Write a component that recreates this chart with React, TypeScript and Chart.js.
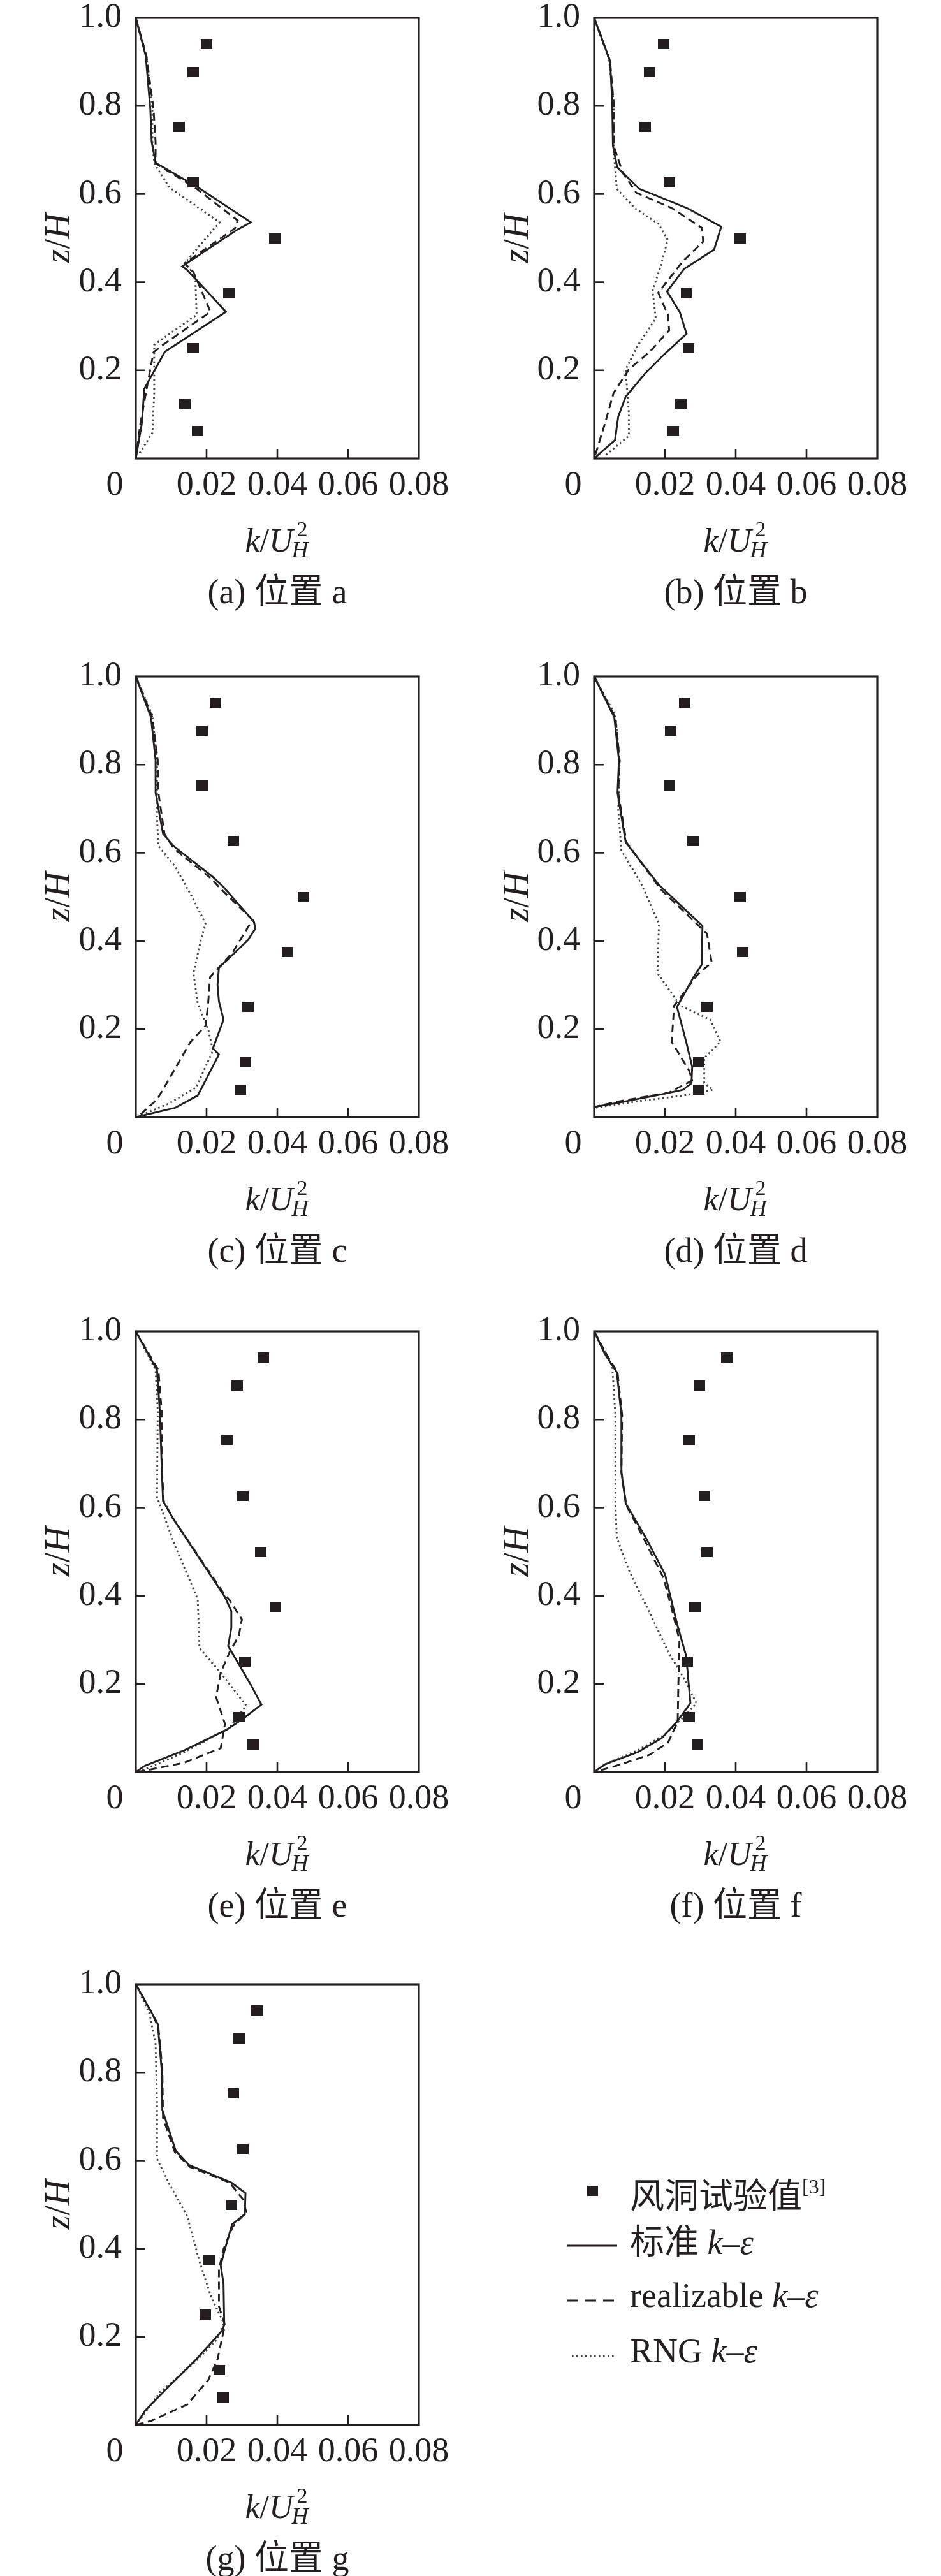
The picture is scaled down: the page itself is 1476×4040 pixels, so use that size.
import React, { useEffect, useRef } from "react";
import Chart from "chart.js/auto";

type Pt = [number, number];

const INK = "#231f20";
const SERIF = "'Liberation Serif', 'Noto Sans CJK SC', serif";

// tick values and labels (both axes)
const X_TICKS = [0, 0.02, 0.04, 0.06, 0.08];
const X_TICK_LABELS = ["0", "0.02", "0.04", "0.06", "0.08"];
const Y_TICKS = [0.2, 0.4, 0.6, 0.8, 1.0];
const Y_TICK_LABELS = ["0.2", "0.4", "0.6", "0.8", "1.0"];

// measuring heights z/H of the wind tunnel points (same at every position)
const EXP_Z = [0.94, 0.877, 0.752, 0.627, 0.5, 0.375, 0.25, 0.125, 0.0625];

// wind tunnel k/U_H^2 at each position
const EXP_A = [0.02, 0.0162, 0.0122, 0.0162, 0.0392, 0.0263, 0.0162, 0.0139, 0.0174];
const EXP_B = [0.0196, 0.0157, 0.0145, 0.0212, 0.0413, 0.0262, 0.0267, 0.0245, 0.0224];
const EXP_C = [0.0226, 0.0188, 0.0188, 0.0276, 0.0473, 0.0429, 0.0317, 0.031, 0.0295];
const EXP_D = [0.0255, 0.0217, 0.0213, 0.0279, 0.0413, 0.0419, 0.0319, 0.0296, 0.0296];
const EXP_E = [0.036, 0.0287, 0.0258, 0.0303, 0.0354, 0.0394, 0.0309, 0.0292, 0.0332];
const EXP_F = [0.0374, 0.0297, 0.0269, 0.0312, 0.0319, 0.0284, 0.0263, 0.0268, 0.0291];
const EXP_G = [0.0343, 0.0292, 0.0275, 0.0303, 0.027, 0.0208, 0.0197, 0.0236, 0.0246];

// simulated profiles, [k/U_H^2, z/H]
const A_STD: Pt[] = [[0, 1], [0.0028, 0.914], [0.0041, 0.794], [0.0045, 0.718], [0.0056, 0.671], [0.0176, 0.615], [0.0325, 0.536], [0.0286, 0.519], [0.0131, 0.436], [0.0146, 0.427], [0.0255, 0.333], [0.0082, 0.242], [0.0024, 0.158], [0.0017, 0.079], [0, 0]];
const A_REAL: Pt[] = [[0, 1], [0.003, 0.914], [0.005, 0.794], [0.0056, 0.718], [0.0056, 0.67], [0.0172, 0.612], [0.0288, 0.54], [0.028, 0.522], [0.0138, 0.443], [0.0163, 0.423], [0.0211, 0.333], [0.0077, 0.258], [0.005, 0.241], [0.003, 0.155], [0.0013, 0.079], [0, 0]];
const A_RNG: Pt[] = [[0, 1], [0.003, 0.914], [0.0047, 0.794], [0.0047, 0.718], [0.0052, 0.67], [0.0095, 0.615], [0.0237, 0.536], [0.0138, 0.443], [0.0168, 0.416], [0.0172, 0.326], [0.0052, 0.258], [0.0052, 0.148], [0.0047, 0.058], [0.0009, 0.01]];

const B_STD: Pt[] = [[0, 1], [0.0045, 0.902], [0.0051, 0.808], [0.0053, 0.71], [0.0065, 0.661], [0.0127, 0.612], [0.0263, 0.568], [0.0359, 0.526], [0.0339, 0.474], [0.0254, 0.43], [0.0206, 0.379], [0.0242, 0.332], [0.0261, 0.283], [0.0195, 0.234], [0.0144, 0.193], [0.0089, 0.14], [0.0068, 0.095], [0.0059, 0.042], [0, 0]];
const B_REAL: Pt[] = [[0, 1], [0.0045, 0.902], [0.0055, 0.808], [0.0055, 0.71], [0.0081, 0.648], [0.0119, 0.603], [0.022, 0.568], [0.0305, 0.523], [0.0308, 0.492], [0.025, 0.447], [0.0181, 0.376], [0.0208, 0.327], [0.0212, 0.291], [0.0157, 0.242], [0.0098, 0.202], [0.0055, 0.149], [0.003, 0.078], [0, 0]];
const B_RNG: Pt[] = [[0, 1], [0.0042, 0.906], [0.0055, 0.808], [0.0055, 0.7], [0.0064, 0.612], [0.0115, 0.568], [0.0182, 0.532], [0.0208, 0.496], [0.0187, 0.434], [0.0165, 0.381], [0.0174, 0.318], [0.0123, 0.256], [0.0089, 0.202], [0.0098, 0.104], [0.0098, 0.051], [0.003, 0.006]];

const C_STD: Pt[] = [[0, 1], [0.0043, 0.907], [0.0056, 0.81], [0.0056, 0.736], [0.0077, 0.643], [0.0107, 0.615], [0.0218, 0.545], [0.0248, 0.522], [0.0334, 0.443], [0.0338, 0.428], [0.0317, 0.402], [0.0235, 0.339], [0.0231, 0.3], [0.0235, 0.263], [0.0248, 0.221], [0.0218, 0.156], [0.0235, 0.142], [0.0175, 0.049], [0.0111, 0.021], [0, 0]];
const C_REAL: Pt[] = [[0, 1], [0.0047, 0.907], [0.0062, 0.81], [0.0064, 0.736], [0.0081, 0.643], [0.0107, 0.61], [0.0214, 0.541], [0.024, 0.518], [0.033, 0.448], [0.0274, 0.374], [0.021, 0.318], [0.0204, 0.253], [0.0197, 0.207], [0.0154, 0.17], [0.0094, 0.086], [0.006, 0.04], [0.0009, 0.003]];
const C_RNG: Pt[] = [[0, 1], [0.0047, 0.912], [0.006, 0.81], [0.006, 0.68], [0.0064, 0.615], [0.0111, 0.569], [0.0163, 0.494], [0.0197, 0.439], [0.0184, 0.402], [0.0163, 0.327], [0.0175, 0.258], [0.0205, 0.198], [0.0218, 0.151], [0.0171, 0.068], [0.0094, 0.031], [0.0017, 0.005]];

const D_STD: Pt[] = [[0, 1], [0.0057, 0.907], [0.007, 0.81], [0.0066, 0.736], [0.0089, 0.624], [0.0183, 0.527], [0.0306, 0.434], [0.0304, 0.346], [0.0281, 0.318], [0.0234, 0.25], [0.026, 0.171], [0.0277, 0.114], [0.0275, 0.077], [0.0251, 0.062], [0.0174, 0.049], [0.0064, 0.032], [0, 0.023]];
const D_REAL: Pt[] = [[0, 1], [0.006, 0.907], [0.0072, 0.81], [0.0068, 0.736], [0.0091, 0.624], [0.0187, 0.518], [0.0319, 0.416], [0.0332, 0.351], [0.0294, 0.325], [0.0226, 0.253], [0.0219, 0.171], [0.0268, 0.106], [0.0277, 0.083], [0.0209, 0.055], [0.0064, 0.035], [0, 0.023]];
const D_RNG: Pt[] = [[0, 1], [0.006, 0.912], [0.0072, 0.81], [0.0068, 0.698], [0.0077, 0.605], [0.0132, 0.531], [0.0183, 0.439], [0.0179, 0.327], [0.0243, 0.253], [0.0328, 0.221], [0.0357, 0.171], [0.0311, 0.134], [0.0311, 0.077], [0.0336, 0.062], [0.0251, 0.049], [0.0115, 0.035], [0, 0.021]];

const E_STD: Pt[] = [[0, 1], [0.006, 0.912], [0.0068, 0.819], [0.0073, 0.698], [0.0077, 0.615], [0.0107, 0.573], [0.0252, 0.397], [0.027, 0.365], [0.027, 0.327], [0.0261, 0.286], [0.0325, 0.198], [0.0355, 0.153], [0.03, 0.119], [0.0257, 0.096], [0.0137, 0.049], [0.0026, 0.014], [0, 0]];
const E_REAL: Pt[] = [[0, 1], [0.0064, 0.912], [0.0073, 0.819], [0.0073, 0.698], [0.0079, 0.615], [0.0103, 0.578], [0.0248, 0.406], [0.0265, 0.39], [0.03, 0.346], [0.0291, 0.309], [0.0265, 0.272], [0.024, 0.225], [0.0227, 0.17], [0.0252, 0.109], [0.024, 0.054], [0.0137, 0.021], [0.0026, 0.003], [0, 0]];
const E_RNG: Pt[] = [[0, 1], [0.0056, 0.912], [0.0062, 0.819], [0.006, 0.624], [0.0111, 0.513], [0.0175, 0.392], [0.018, 0.281], [0.024, 0.225], [0.0312, 0.151], [0.0265, 0.1], [0.0137, 0.045], [0.0017, 0.003]];

const F_STD: Pt[] = [[0, 1], [0.003, 0.949], [0.0064, 0.907], [0.0077, 0.81], [0.0077, 0.68], [0.0089, 0.61], [0.0149, 0.527], [0.02, 0.449], [0.0209, 0.42], [0.0234, 0.337], [0.026, 0.263], [0.0272, 0.156], [0.0234, 0.114], [0.0191, 0.077], [0.0123, 0.045], [0.003, 0.017], [0, 0]];
const F_REAL: Pt[] = [[0, 1], [0.0034, 0.949], [0.0066, 0.907], [0.0079, 0.81], [0.0077, 0.68], [0.0091, 0.605], [0.0145, 0.522], [0.0196, 0.44], [0.0221, 0.365], [0.0241, 0.299], [0.0238, 0.202], [0.0236, 0.114], [0.0209, 0.067], [0.0157, 0.039], [0.0055, 0.012], [0, 0]];
const F_RNG: Pt[] = [[0, 1], [0.0051, 0.921], [0.006, 0.81], [0.006, 0.607], [0.0064, 0.532], [0.0098, 0.458], [0.0166, 0.346], [0.0209, 0.273], [0.0251, 0.216], [0.0289, 0.156], [0.0251, 0.123], [0.02, 0.085], [0.0123, 0.049], [0.003, 0.017], [0, 0]];

const G_STD: Pt[] = [[0, 1], [0.0043, 0.938], [0.0062, 0.91], [0.0073, 0.808], [0.0075, 0.715], [0.0113, 0.622], [0.015, 0.59], [0.027, 0.55], [0.031, 0.526], [0.0308, 0.478], [0.0272, 0.455], [0.0252, 0.399], [0.024, 0.362], [0.0248, 0.32], [0.025, 0.227], [0.0244, 0.214], [0.0171, 0.149], [0.0094, 0.088], [0.0026, 0.032], [0, 0]];
const G_REAL: Pt[] = [[0, 1], [0.0047, 0.933], [0.0064, 0.901], [0.0075, 0.808], [0.0077, 0.696], [0.0111, 0.618], [0.0154, 0.585], [0.0265, 0.55], [0.0304, 0.511], [0.0312, 0.483], [0.0274, 0.45], [0.0248, 0.399], [0.0235, 0.353], [0.0235, 0.269], [0.0252, 0.227], [0.0231, 0.149], [0.0205, 0.102], [0.0145, 0.046], [0.0043, 0.009], [0, 0]];
const G_RNG: Pt[] = [[0, 1], [0.0039, 0.933], [0.0056, 0.864], [0.006, 0.734], [0.006, 0.604], [0.0094, 0.548], [0.0145, 0.474], [0.018, 0.371], [0.0214, 0.288], [0.0248, 0.232], [0.0231, 0.195], [0.0163, 0.139], [0.0068, 0.074], [0.0009, 0.009]];

const SERIES_NAMES = ["风洞试验值", "标准 k–ε", "realizable k–ε", "RNG k–ε"];

interface PanelDef {
  caption: string;
  exp: number[];
  std: Pt[];
  real: Pt[];
  rng: Pt[];
  left: number; // plot-area left on the page
  top: number; // plot-area top on the page
  legend?: boolean;
}

const PANELS: PanelDef[] = [
  { caption: "(a) 位置 a", exp: EXP_A, std: A_STD, real: A_REAL, rng: A_RNG, left: 213, top: 28 },
  { caption: "(b) 位置 b", exp: EXP_B, std: B_STD, real: B_REAL, rng: B_RNG, left: 932, top: 28 },
  { caption: "(c) 位置 c", exp: EXP_C, std: C_STD, real: C_REAL, rng: C_RNG, left: 213, top: 1061 },
  { caption: "(d) 位置 d", exp: EXP_D, std: D_STD, real: D_REAL, rng: D_RNG, left: 932, top: 1061 },
  { caption: "(e) 位置 e", exp: EXP_E, std: E_STD, real: E_REAL, rng: E_RNG, left: 213, top: 2088 },
  { caption: "(f) 位置 f", exp: EXP_F, std: F_STD, real: F_REAL, rng: F_RNG, left: 932, top: 2088 },
  { caption: "(g) 位置 g", exp: EXP_G, std: G_STD, real: G_REAL, rng: G_RNG, left: 213, top: 3112, legend: true },
];

const PLOT_W = 444;
const PLOT_H = 691;
const OFF_X = 213;
const OFF_Y = 28;
const CANVAS_H = 975;

const SOLID_W = 2.9;
const DASH = [12, 7];
const DOT = [2.6, 4.4];
const DOT_COLOR = "#444";

function squareMarker() {
  const c = document.createElement("canvas");
  c.width = 18;
  c.height = 16;
  const g = c.getContext("2d")!;
  g.fillStyle = INK;
  g.fillRect(0, 0, 18, 16);
  return c;
}

type Run = { t: string; font: string; dy?: number };

function drawRuns(ctx: CanvasRenderingContext2D, runs: Run[], x: number, y: number, align: "left" | "center") {
  ctx.textAlign = "left";
  ctx.textBaseline = "alphabetic";
  const widths = runs.map((r) => {
    ctx.font = r.font;
    return ctx.measureText(r.t).width;
  });
  const total = widths.reduce((a, b) => a + b, 0);
  let cx = align === "center" ? x - total / 2 : x;
  runs.forEach((r, i) => {
    ctx.font = r.font;
    ctx.fillText(r.t, cx, y + (r.dy || 0));
    cx += widths[i];
  });
}

const kEps = (size: number): Run[] => [
  { t: "k", font: `italic ${size}px ${SERIF}` },
  { t: "–", font: `${size}px ${SERIF}` },
  { t: "ε", font: `italic ${size}px ${SERIF}` },
];

const framePlugin = {
  id: "frame",
  afterDraw(chart: any) {
    const opts = chart.options.plugins.frame;
    const { ctx } = chart;
    const { left, top, right, bottom } = chart.chartArea;
    const xs = chart.scales.x;
    const ys = chart.scales.y;
    ctx.save();
    ctx.strokeStyle = INK;
    ctx.fillStyle = INK;
    ctx.setLineDash([]);
    ctx.lineWidth = 3.2;
    ctx.strokeRect(left, top, right - left, bottom - top);

    // inward ticks
    ctx.lineWidth = 2.6;
    ctx.beginPath();
    X_TICKS.slice(1, -1).forEach((v) => {
      const px = xs.getPixelForValue(v);
      ctx.moveTo(px, bottom);
      ctx.lineTo(px, bottom - 15);
    });
    Y_TICKS.slice(0, -1).forEach((v) => {
      const py = ys.getPixelForValue(v);
      ctx.moveTo(left, py);
      ctx.lineTo(left + 15, py);
    });
    ctx.stroke();

    // tick labels
    ctx.font = `54px ${SERIF}`;
    ctx.textBaseline = "middle";
    ctx.textAlign = "right";
    Y_TICKS.forEach((v, i) => {
      ctx.fillText(Y_TICK_LABELS[i], left - 22, ys.getPixelForValue(v));
    });
    ctx.textAlign = "center";
    X_TICKS.forEach((v, i) => {
      const px = xs.getPixelForValue(v) - (v === 0 ? 33 : 0);
      ctx.fillText(X_TICK_LABELS[i], px, bottom + 43);
    });

    // y title z/H
    ctx.save();
    ctx.translate(left - 123, (top + bottom) / 2);
    ctx.rotate(-Math.PI / 2);
    drawRuns(
      ctx,
      [
        { t: "z", font: `italic 56px ${SERIF}` },
        { t: "/", font: `56px ${SERIF}` },
        { t: "H", font: `italic 56px ${SERIF}` },
      ],
      0,
      19,
      "center"
    );
    ctx.restore();

    // x title k/U_H^2
    const cx = (left + right) / 2;
    const base = bottom + 146;
    const fMain = `italic 52px ${SERIF}`;
    const fSlash = `52px ${SERIF}`;
    const fSub = `italic 36px ${SERIF}`;
    const fSup = `34px ${SERIF}`;
    ctx.textAlign = "left";
    ctx.textBaseline = "alphabetic";
    ctx.font = fMain;
    const wk = ctx.measureText("k").width;
    const wU = ctx.measureText("U").width;
    ctx.font = fSlash;
    const ws = ctx.measureText("/").width;
    ctx.font = fSub;
    const wH = ctx.measureText("H").width;
    const total = wk + ws + wU + wH;
    const x0 = cx - total / 2;
    ctx.font = fMain;
    ctx.fillText("k", x0, base);
    ctx.font = fSlash;
    ctx.fillText("/", x0 + wk, base);
    ctx.font = fMain;
    ctx.fillText("U", x0 + wk + ws, base);
    ctx.font = fSub;
    ctx.fillText("H", x0 + wk + ws + wU - 2, base + 9);
    ctx.font = fSup;
    ctx.fillText("2", x0 + wk + ws + wU + 6, base - 24);

    // caption
    ctx.font = `54px ${SERIF}`;
    ctx.textAlign = "center";
    ctx.fillText(opts.caption, cx, bottom + 227);

    if (opts.legend) {
      const ds = chart.data.datasets;
      // marker
      ctx.drawImage(ds[0].pointStyle, 921, 344, 17, 16);
      // samples
      ctx.lineWidth = SOLID_W;
      ctx.strokeStyle = INK;
      ctx.beginPath();
      ctx.moveTo(890, 438);
      ctx.lineTo(968, 438);
      ctx.stroke();
      ctx.setLineDash([17, 11]);
      ctx.beginPath();
      ctx.moveTo(890, 524);
      ctx.lineTo(963, 524);
      ctx.stroke();
      ctx.strokeStyle = DOT_COLOR;
      ctx.setLineDash(DOT);
      ctx.beginPath();
      ctx.moveTo(897, 611);
      ctx.lineTo(964, 611);
      ctx.stroke();
      ctx.setLineDash([]);
      ctx.fillStyle = INK;
      const f = `54px ${SERIF}`;
      drawRuns(ctx, [{ t: SERIES_NAMES[0], font: f }, { t: "[3]", font: `32px ${SERIF}`, dy: -23 }], 988, 379, "left");
      drawRuns(ctx, [{ t: "标准 ", font: f }, ...kEps(54)], 988, 451, "left");
      drawRuns(ctx, [{ t: "realizable ", font: f }, ...kEps(54)], 988, 534, "left");
      drawRuns(ctx, [{ t: "RNG ", font: f }, ...kEps(54)], 988, 621, "left");
    }
    ctx.restore();
  },
};

function Panel({ p }: { p: PanelDef }) {
  const canvasRef = useRef<HTMLCanvasElement | null>(null);
  const width = p.legend ? 1476 : 738;

  useEffect(() => {
    if (!canvasRef.current) return;
    const marker = squareMarker();
    const toXY = (arr: Pt[]) => arr.map(([k, z]) => ({ x: k, y: z }));
    const line = (label: string, arr: Pt[], dash: number[], color: string) => ({
      label,
      data: toXY(arr),
      showLine: true,
      borderColor: color,
      borderWidth: SOLID_W,
      borderDash: dash,
      pointRadius: 0,
      pointHoverRadius: 0,
      tension: 0,
      fill: false,
    });

    const chart = new Chart(canvasRef.current, {
      type: "scatter",
      data: {
        datasets: [
          {
            label: SERIES_NAMES[0],
            data: p.exp.map((k, i) => ({ x: k, y: EXP_Z[i] })),
            showLine: false,
            pointStyle: marker as any,
            pointRadius: 9,
            backgroundColor: INK,
            borderColor: INK,
          } as any,
          line(SERIES_NAMES[1], p.std, [], INK),
          line(SERIES_NAMES[2], p.real, DASH, INK),
          line(SERIES_NAMES[3], p.rng, DOT, DOT_COLOR),
        ],
      },
      options: {
        responsive: false,
        animation: false,
        events: [],
        layout: {
          padding: {
            left: OFF_X,
            top: OFF_Y,
            right: width - OFF_X - PLOT_W,
            bottom: CANVAS_H - OFF_Y - PLOT_H,
          },
        },
        scales: {
          x: { type: "linear", min: 0, max: 0.08, display: false },
          y: { type: "linear", min: 0, max: 1, display: false },
        },
        plugins: {
          legend: { display: false },
          tooltip: { enabled: false },
          frame: { caption: p.caption, legend: !!p.legend },
        } as any,
      },
      plugins: [framePlugin],
    });
    return () => chart.destroy();
  }, [p]);

  return (
    <canvas
      ref={canvasRef}
      width={width}
      height={CANVAS_H}
      style={{ position: "absolute", left: p.left - OFF_X, top: p.top - OFF_Y, width, height: CANVAS_H }}
    />
  );
}

export default function App() {
  return (
    <div style={{ position: "absolute", left: 0, top: 0, width: 1476, height: 4040, background: "#fff", overflow: "hidden" }}>
      {PANELS.map((p) => (
        <Panel key={p.caption} p={p} />
      ))}
    </div>
  );
}
